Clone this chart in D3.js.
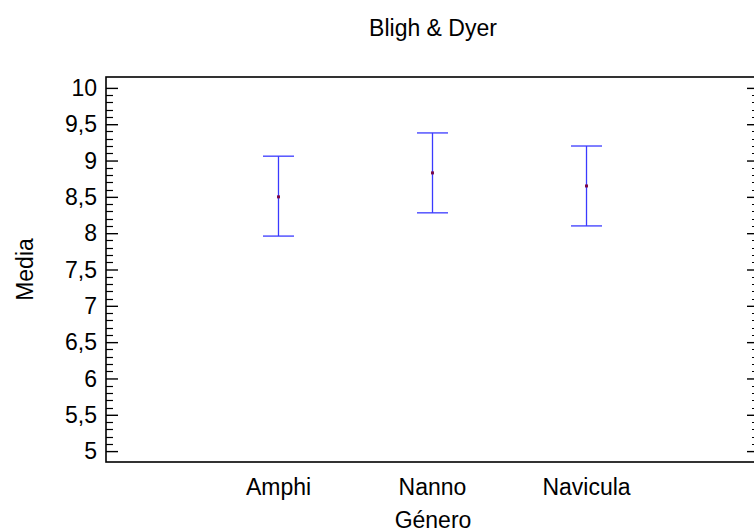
<!DOCTYPE html>
<html>
<head>
<meta charset="utf-8">
<script src="https://cdn.jsdelivr.net/npm/d3@7"></script>
<style>
	body { margin: 0; background: #fff; }
	svg { display: block; }
	text { font-family: Arial, 'Liberation Sans', sans-serif; fill: #000; }
</style>
</head>
<body>
<script>
// Data
const categories = ['Amphi', 'Nanno', 'Navicula'];
const means = [8.5, 8.83, 8.65];
const lower = [7.96, 8.28, 8.1];
const upper = [9.06, 9.38, 9.2];
const yTicks = [5, 5.5, 6, 6.5, 7, 7.5, 8, 8.5, 9, 9.5, 10];

const width = 754;
const height = 532;
const box = {left: 106, right: 759, top: 77, bottom: 462};
const fontSize = '23px';

const svg = d3.select('body').append('svg').attr('width', width).attr('height', height);

// Comma as decimal separator
const locale = d3.formatLocale({decimal: ',', thousands: '.', grouping: [3], currency: ['', '']});
const fmt = locale.format('~g');

const x = d3
	.scaleLinear()
	.domain([-1.12, categories.length - 1 + 1.12])
	.range([box.left, box.right]);

const y = d3.scaleLinear().domain([4.85, 10.15]).range([box.bottom, box.top]);

// Minor ticks every 0.1
const minorTicks = d3.range(50, 101).map((d) => d / 10).filter((d) => !yTicks.some((t) => Math.abs(t - d) < 1e-9));

// Left axis (ticks inside)
const leftAxis = svg
	.append('g')
	.attr('transform', `translate(${box.left},0)`)
	.call(d3.axisRight(y).tickValues(yTicks).tickSize(12).tickFormat(''));
leftAxis.select('.domain').remove();
leftAxis.selectAll('line').attr('stroke', '#000').attr('stroke-width', 1.4);

svg
	.append('g')
	.selectAll('line')
	.data(minorTicks)
	.enter()
	.append('line')
	.attr('x1', box.left)
	.attr('x2', box.left + 7)
	.attr('y1', (d) => Math.round(y(d)) + 0.5)
	.attr('y2', (d) => Math.round(y(d)) + 0.5)
	.attr('stroke', '#000')
	.attr('stroke-width', 1.2);

// Tick labels
svg
	.append('g')
	.selectAll('text')
	.data(yTicks)
	.enter()
	.append('text')
	.attr('x', 97)
	.attr('y', (d) => y(d))
	.attr('dy', '0.36em')
	.attr('text-anchor', 'end')
	.style('font-size', fontSize)
	.text((d) => fmt(d));

// Right axis (mostly clipped by the window)
const rightAxis = svg
	.append('g')
	.attr('transform', `translate(${box.right},0)`)
	.call(d3.axisLeft(y).tickValues(yTicks).tickSize(12).tickFormat(''));
rightAxis.select('.domain').remove();
rightAxis.selectAll('line').attr('stroke', '#000').attr('stroke-width', 1.4);

svg
	.append('g')
	.selectAll('line')
	.data(minorTicks)
	.enter()
	.append('line')
	.attr('x1', box.right)
	.attr('x2', box.right - 7)
	.attr('y1', (d) => Math.round(y(d)) + 0.5)
	.attr('y2', (d) => Math.round(y(d)) + 0.5)
	.attr('stroke', '#000')
	.attr('stroke-width', 1.2);

// Frame
svg
	.append('rect')
	.attr('x', box.left)
	.attr('y', box.top)
	.attr('width', box.right - box.left)
	.attr('height', box.bottom - box.top)
	.attr('fill', 'none')
	.attr('stroke', '#000')
	.attr('stroke-width', 1.6);

// Error bars
const bars = svg
	.append('g')
	.selectAll('g')
	.data(categories)
	.enter()
	.append('g');

bars
	.append('line')
	.attr('x1', (d, i) => x(i))
	.attr('x2', (d, i) => x(i))
	.attr('y1', (d, i) => y(upper[i]))
	.attr('y2', (d, i) => y(lower[i]))
	.attr('stroke', '#3a3aff')
	.attr('stroke-width', 1.3);

bars
	.selectAll('.cap')
	.data((d, i) => [upper[i], lower[i]].map((v) => ({i: i, v: v})))
	.enter()
	.append('line')
	.attr('class', 'cap')
	.attr('x1', (d) => x(d.i) - 15.5)
	.attr('x2', (d) => x(d.i) + 15.5)
	.attr('y1', (d) => y(d.v))
	.attr('y2', (d) => y(d.v))
	.attr('stroke', '#3a3aff')
	.attr('stroke-width', 1.3);

// Mean markers
bars
	.append('rect')
	.attr('x', (d, i) => x(i) - 1.5)
	.attr('y', (d, i) => y(means[i]) - 1.5)
	.attr('width', 3)
	.attr('height', 3)
	.attr('fill', '#7a0a4a');

// Category labels
svg
	.append('g')
	.selectAll('text')
	.data(categories)
	.enter()
	.append('text')
	.attr('x', (d, i) => x(i))
	.attr('y', 495)
	.attr('text-anchor', 'middle')
	.style('font-size', fontSize)
	.text((d) => d);

// Titles
svg
	.append('text')
	.attr('x', 433)
	.attr('y', 36)
	.attr('text-anchor', 'middle')
	.style('font-size', fontSize)
	.text('Bligh & Dyer');

svg
	.append('text')
	.attr('x', 433)
	.attr('y', 528)
	.attr('text-anchor', 'middle')
	.style('font-size', fontSize)
	.text('Género');

svg
	.append('text')
	.attr('transform', `translate(33,${(box.top + box.bottom) / 2}) rotate(-90)`)
	.attr('text-anchor', 'middle')
	.style('font-size', fontSize)
	.text('Media');
</script>
</body>
</html>
